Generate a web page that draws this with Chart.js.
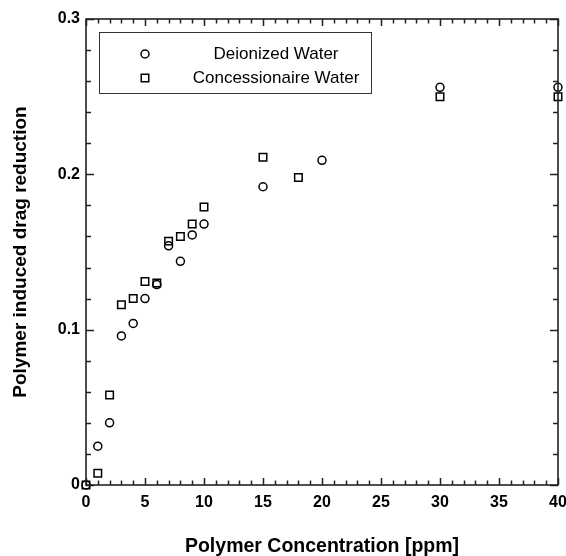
<!DOCTYPE html>
<html>
<head>
<meta charset="utf-8">
<script src="https://cdn.jsdelivr.net/npm/chart.js@4/dist/chart.umd.min.js"></script>
<style>
  html, body { margin: 0; padding: 0; background: #fff; }
  canvas { display: block; }
</style>
</head>
<body>
<canvas id="c" width="566" height="556"></canvas>
<script>
// ---- data ----
const deionizedX = [0, 1, 2, 3, 4, 5, 6, 7, 8, 9, 10, 15, 20, 30, 40];
const deionizedY = [0, 0.025, 0.040, 0.096, 0.104, 0.120, 0.129, 0.154, 0.144, 0.161, 0.168, 0.192, 0.209, 0.256, 0.256];
const concessX   = [0, 1, 2, 3, 4, 5, 6, 7, 8, 9, 10, 15, 18, 30, 40];
const concessY   = [0, 0.0075, 0.058, 0.116, 0.120, 0.131, 0.130, 0.157, 0.160, 0.168, 0.179, 0.211, 0.198, 0.250, 0.250];
const seriesNames = ['Deionized Water', 'Concessionaire Water'];
const xTitle = 'Polymer Concentration [ppm]';
const yTitle = 'Polymer induced drag reduction';

const toPts = (xs, ys) => xs.map((x, i) => ({x: x, y: ys[i]}));

const FONT = 'Arial, "Liberation Sans", Helvetica, sans-serif';

// inward ticks + frame on all four sides
const framePlugin = {
  id: 'frame',
  afterDatasetsDraw(chart) {
    const {ctx, chartArea: a, scales: {x, y}} = chart;
    ctx.save();
    ctx.strokeStyle = '#222';
    ctx.lineWidth = 1.5;
    ctx.beginPath();
    for (let v = 0; v <= 40 + 1e-9; v += 1) {
      const px = Math.round(x.getPixelForValue(v)) + 0.5;
      const len = (v % 5 === 0) ? 7 : 4.5;
      ctx.moveTo(px, a.bottom); ctx.lineTo(px, a.bottom - len);
      ctx.moveTo(px, a.top); ctx.lineTo(px, a.top + len);
    }
    for (let k = 0; k <= 15; k++) {
      const v = k * 0.02;
      const py = Math.round(y.getPixelForValue(v)) + 0.5;
      const len = (k % 5 === 0) ? 8 : 5;
      ctx.moveTo(a.left, py); ctx.lineTo(a.left + len, py);
      ctx.moveTo(a.right, py); ctx.lineTo(a.right - len, py);
    }
    ctx.stroke();
    ctx.lineWidth = 1.6;
    ctx.strokeRect(a.left, a.top, a.right - a.left, a.bottom - a.top);
    ctx.restore();
  }
};

// boxed legend in the upper left
const legendPlugin = {
  id: 'boxLegend',
  afterDraw(chart) {
    const {ctx} = chart;
    ctx.save();
    const bx = 99, by = 32, bw = 272, bh = 61;
    ctx.strokeStyle = '#333';
    ctx.lineWidth = 1;
    ctx.strokeRect(bx + 0.5, by + 0.5, bw, bh);
    ctx.fillStyle = '#000';
    ctx.font = '17px ' + FONT;
    ctx.textAlign = 'center';
    ctx.textBaseline = 'middle';
    const rows = [54, 78];
    chart.data.datasets.forEach((ds, i) => {
      const yy = rows[i];
      ctx.strokeStyle = '#000';
      ctx.lineWidth = 1.5;
      ctx.beginPath();
      if (ds.pointStyle === 'circle') {
        ctx.arc(145, yy, 4, 0, Math.PI * 2);
      } else {
        ctx.rect(141.25, yy - 3.75, 7.5, 7.5);
      }
      ctx.stroke();
      ctx.fillText(ds.label, 276, yy);
    });
    ctx.restore();
  }
};

new Chart(document.getElementById('c'), {
  type: 'scatter',
  data: {
    datasets: [
      {
        label: seriesNames[0],
        data: toPts(deionizedX, deionizedY),
        pointStyle: 'circle',
        pointRadius: 4,
        borderColor: '#000',
        backgroundColor: 'rgba(0,0,0,0)',
        borderWidth: 1.5,
        clip: false
      },
      {
        label: seriesNames[1],
        data: toPts(concessX, concessY),
        pointStyle: 'rect',
        pointRadius: 5.3,
        borderColor: '#000',
        backgroundColor: 'rgba(0,0,0,0)',
        borderWidth: 1.5,
        clip: false
      }
    ]
  },
  options: {
    responsive: false,
    animation: false,
    devicePixelRatio: 1,
    layout: { padding: { top: 19, right: 8, left: 0, bottom: 0 } },
    plugins: {
      legend: { display: false },
      tooltip: { enabled: false }
    },
    scales: {
      x: {
        type: 'linear',
        min: 0, max: 40,
        afterFit(s) { s.height = 71; s.paddingRight = 0; s.paddingLeft = 0; },
        grid: { display: false, drawTicks: false },
        border: { display: false },
        ticks: {
          stepSize: 5,
          padding: 8,
          color: '#000',
          maxRotation: 0,
          font: { family: FONT, size: 16, weight: 'bold' }
        },
        title: {
          display: true,
          text: xTitle,
          color: '#000',
          padding: { top: 0, bottom: 0 },
          font: { family: FONT, size: 19.5, weight: 'bold', lineHeight: 1 }
        }
      },
      y: {
        type: 'linear',
        min: 0, max: 0.3,
        afterFit(s) { s.width = 86; s.paddingTop = 0; s.paddingBottom = 0; },
        grid: { display: false, drawTicks: false },
        border: { display: false },
        ticks: {
          stepSize: 0.1,
          padding: 6,
          color: '#000',
          font: { family: FONT, size: 16, weight: 'bold' },
          callback: (v) => (Math.abs(v) < 1e-9 ? '0' : v.toFixed(1))
        },
        title: {
          display: true,
          text: yTitle,
          color: '#000',
          padding: { top: 11, bottom: 0 },
          font: { family: FONT, size: 19, weight: 'bold', lineHeight: 1 }
        }
      }
    }
  },
  plugins: [framePlugin, legendPlugin]
});
</script>
</body>
</html>
